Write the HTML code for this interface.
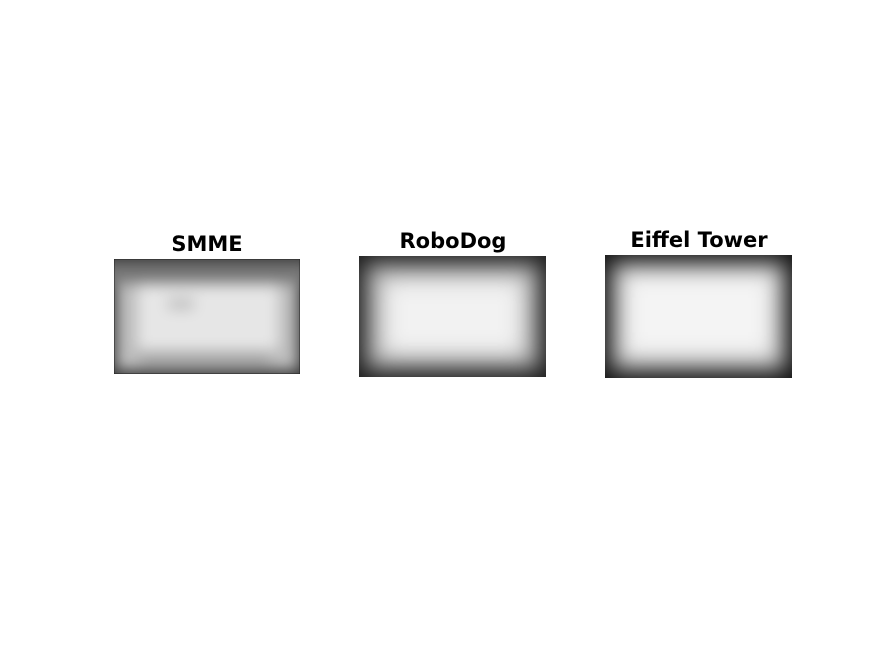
<!DOCTYPE html>
<html><head><meta charset="utf-8"><style>
body{margin:0;background:#fff;width:875px;height:656px;overflow:hidden}
svg{display:block}
text{font-family:"DejaVu Sans","Liberation Sans",sans-serif;font-weight:bold;font-size:21px;fill:#000}
</style></head><body>
<svg width="875" height="656">
<defs>
<filter id="b1" x="-20%" y="-20%" width="140%" height="140%"><feGaussianBlur stdDeviation="7"/></filter>
<filter id="b2" x="-20%" y="-20%" width="140%" height="140%"><feGaussianBlur stdDeviation="11"/></filter>
<clipPath id="c1"><rect x="114" y="259" width="186" height="115"/></clipPath>
<clipPath id="c2"><rect x="359" y="256" width="187" height="121"/></clipPath>
<clipPath id="c3"><rect x="605" y="255" width="187" height="123"/></clipPath>
</defs>
<g>
<text x="207" y="251" text-anchor="middle">SMME</text>
<g clip-path="url(#c1)">
<rect x="114" y="259" width="186" height="115" fill="#3a3a3a"/>
<g filter="url(#b1)">
<rect x="104" y="262" width="206" height="22" fill="#777"/>
<rect x="116" y="284" width="182" height="86" fill="#bcbcbc"/>
<rect x="138" y="286" width="140" height="64" fill="#e6e6e6"/>
<rect x="140" y="352" width="130" height="14" fill="#a4a4a4"/>
<rect x="168" y="298" width="26" height="12" fill="#c0c0c0"/>
</g>
<rect x="114" y="259" width="186" height="115" fill="none" stroke="#222" stroke-width="1"/>
</g>
</g>
<g>
<text x="453" y="248" text-anchor="middle">RoboDog</text>
<g clip-path="url(#c2)">
<rect x="359" y="256" width="187" height="121" fill="#1e1e1e"/>
<g filter="url(#b2)">
<rect x="366" y="264" width="173" height="105" fill="#b4b4b4"/>
<rect x="384" y="280" width="138" height="74" fill="#f2f2f2"/>
</g>
</g>
</g>
<g>
<text x="699" y="247" text-anchor="middle">Eiffel Tower</text>
<g clip-path="url(#c3)">
<rect x="605" y="255" width="187" height="123" fill="#141414"/>
<g filter="url(#b2)">
<rect x="612" y="263" width="173" height="107" fill="#c4c4c4"/>
<rect x="624" y="274" width="148" height="82" fill="#f4f4f4"/>
</g>
</g>
</g>
</svg>
</body></html>
